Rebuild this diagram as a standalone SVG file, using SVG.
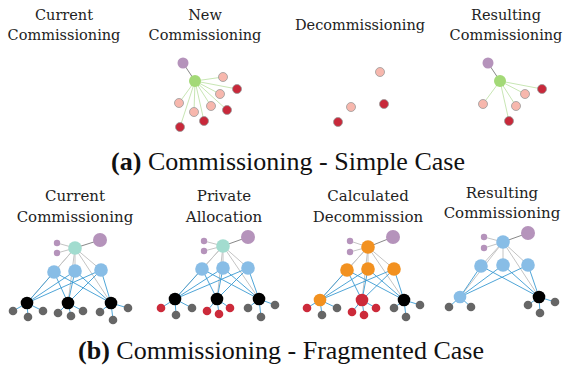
<svg xmlns="http://www.w3.org/2000/svg" width="566" height="365" viewBox="0 0 566 365">
<style>
.t{font-family:"DejaVu Serif","Liberation Serif",serif;font-size:14.5px;fill:#222;text-anchor:middle}
.tb{font-family:"DejaVu Serif","Liberation Serif",serif;font-size:15px;fill:#222;text-anchor:middle}
.cap{font-family:"Liberation Serif","DejaVu Serif",serif;font-size:26px;fill:#111;text-anchor:middle}
.cap tspan.b{font-weight:bold}
.pu{fill:#b593bb}
.gr{fill:#a3d977}
.pk{fill:#f7b7ad;stroke:#999;stroke-width:0.8}
.rd{fill:#c8283a;stroke:#999;stroke-width:0.8}
.tl{fill:#a2dccf}
.bl{fill:#88bde6}
.bk{fill:#000}
.gy{fill:#666}
.or{fill:#f29120}
.rr{fill:#cc2a3a}
.ed{fill:none;stroke:#888;stroke-width:1}
.eg{fill:none;stroke:#c8e6b4;stroke-width:1}
.el{fill:none;stroke:#c4c4c4;stroke-width:1}
.eb{fill:none;stroke:#3b9bd3;stroke-width:0.9}
</style>
<g id="connectors">
<path class="ed" d="M183,63L195,81 M488,63L500,81"/>
<path class="eg" d="M195,81L223,77 M195,81L220,94 M195,81L211,106 M195,81L194,112 M195,81L179,103 M195,81L237,89 M195,81L227,110 M195,81L204,121 M195,81L180,127"/>
<path class="eg" d="M500,81L542,89 M500,81L509,121 M500,81L525,94 M500,81L516,106 M500,81L483,104"/>
<path class="el" d="M57,243L75,248 M57,253L75,248 M75,248L54,272 M75,248L75,271 M75,248L101,270 M75,248L27,303 M75,248L68,303 M75,248L111,303"/>
<path class="ed" d="M75,248L100,240 M223,246L248,237 M368,247L393,237 M503,242L528,233"/>
<path class="eb" d="M54,272L27,303 M54,272L68,303 M54,272L111,303 M75,271L27,303 M75,271L68,303 M75,271L111,303 M101,270L27,303 M101,270L68,303 M101,270L111,303"/>
<path class="eb" d="M27,303L13,311 M27,303L28,317 M27,303L43,311 M68,303L58,313 M68,303L71,316 M68,303L83,311 M111,303L100,312 M111,303L113,320 M111,303L128,308"/>
<path class="el" d="M204,241L223,246 M204,251L223,246 M223,246L202,269 M223,246L223,268 M223,246L248,268 M223,246L175,299 M223,246L217,299 M223,246L259,299"/>
<path class="eb" d="M202,269L175,299 M202,269L217,299 M202,269L259,299 M223,268L175,299 M223,268L217,299 M223,268L259,299 M248,268L175,299 M248,268L217,299 M248,268L259,299"/>
<path class="eb" d="M175,299L161,308 M175,299L176,315 M175,299L192,308 M217,299L207,311 M217,299L219,314 M217,299L230,308 M259,299L248,308 M259,299L261,317 M259,299L275,305"/>
<path class="el" d="M350,241L368,247 M350,252L368,247 M368,247L347,270 M368,247L368,269 M368,247L394,269 M368,247L320,300 M368,247L362,300 M368,247L404,300"/>
<path class="eb" d="M347,270L320,300 M347,270L362,300 M347,270L404,300 M368,269L320,300 M368,269L362,300 M368,269L404,300 M394,269L320,300 M394,269L362,300 M394,269L404,300"/>
<path class="eb" d="M320,300L307,308 M320,300L322,315 M320,300L337,308 M362,300L352,312 M362,300L364,315 M362,300L376,308 M404,300L394,308 M404,300L406,317 M404,300L420,305"/>
<path class="el" d="M484,237L503,242 M484,248L503,242 M503,242L481,266 M503,242L503,265 M503,242L528,265 M503,242L460,297 M503,242L539,297"/>
<path class="eb" d="M481,266L460,297 M481,266L539,297 M503,265L460,297 M503,265L539,297 M528,265L460,297 M528,265L539,297"/>
<path class="eb" d="M460,297L449,307 M460,297L471,307 M539,297L528,305 M539,297L540,313 M539,297L555,302"/>
</g>
<g id="titles">
<text class="t" x="64" y="20">Current</text><text class="t" x="64" y="40">Commissioning</text>
<text class="t" x="205" y="20">New</text><text class="t" x="205" y="40">Commissioning</text>
<text class="t" x="360" y="30">Decommissioning</text>
<text class="t" x="506" y="20">Resulting</text><text class="t" x="506" y="40">Commissioning</text>
<text class="tb" x="75" y="201">Current</text><text class="tb" x="75" y="222">Commissioning</text>
<text class="tb" x="224" y="201">Private</text><text class="tb" x="224" y="222">Allocation</text>
<text class="tb" x="368" y="201">Calculated</text><text class="tb" x="368" y="222">Decommission</text>
<text class="tb" x="502" y="198">Resulting</text><text class="tb" x="502" y="218">Commissioning</text>
<text class="cap" x="288" y="170"><tspan class="b">(a)</tspan> Commissioning - Simple Case</text>
<text class="cap" x="281" y="359"><tspan class="b">(b)</tspan> Commissioning - Fragmented Case</text>
</g>
<g id="new">
<g id="n-p"><circle class="pu" cx="183" cy="63" r="5.5"/></g>
<g id="n-g"><circle class="gr" cx="195" cy="81" r="6"/></g>
<g id="n-k1"><circle class="pk" cx="223" cy="77" r="4.5"/></g>
<g id="n-k2"><circle class="pk" cx="220" cy="94" r="4.5"/></g>
<g id="n-k3"><circle class="pk" cx="211" cy="106" r="4.5"/></g>
<g id="n-k4"><circle class="pk" cx="194" cy="112" r="4.5"/></g>
<g id="n-k5"><circle class="pk" cx="179" cy="103" r="4.5"/></g>
<g id="n-r1"><circle class="rd" cx="237" cy="89" r="4.5"/></g>
<g id="n-r2"><circle class="rd" cx="227" cy="110" r="4.5"/></g>
<g id="n-r3"><circle class="rd" cx="204" cy="121" r="4.5"/></g>
<g id="n-r4"><circle class="rd" cx="180" cy="127" r="4.5"/></g>
</g>
<g id="decom">
<g id="d-k1"><circle class="pk" cx="380" cy="72" r="4.5"/></g>
<g id="d-k2"><circle class="pk" cx="351" cy="107" r="4.5"/></g>
<g id="d-r1"><circle class="rd" cx="384" cy="104" r="4.5"/></g>
<g id="d-r2"><circle class="rd" cx="338" cy="122" r="4.5"/></g>
</g>
<g id="result">
<g id="r-p"><circle class="pu" cx="488" cy="63" r="5.5"/></g>
<g id="r-g"><circle class="gr" cx="500" cy="81" r="6"/></g>
<g id="r-r1"><circle class="rd" cx="542" cy="89" r="4.5"/></g>
<g id="r-r2"><circle class="rd" cx="509" cy="121" r="4.5"/></g>
<g id="r-k1"><circle class="pk" cx="525" cy="94" r="4.5"/></g>
<g id="r-k2"><circle class="pk" cx="516" cy="106" r="4.5"/></g>
<g id="r-k3"><circle class="pk" cx="483" cy="104" r="4.5"/></g>
</g>
<g id="p1">
<g id="p1-sp1"><circle class="pu" cx="57" cy="243" r="3.2"/></g>
<g id="p1-sp2"><circle class="pu" cx="57" cy="253" r="3.2"/></g>
<g id="p1-t"><circle class="tl" cx="75" cy="248" r="6.8"/></g>
<g id="p1-bp"><circle class="pu" cx="100" cy="240" r="7"/></g>
<g id="p1-m1"><circle class="bl" cx="54" cy="272" r="6.8"/></g>
<g id="p1-m2"><circle class="bl" cx="75" cy="271" r="6.8"/></g>
<g id="p1-m3"><circle class="bl" cx="101" cy="270" r="6.8"/></g>
<g id="p1-b1"><circle class="bk" cx="27" cy="303" r="6.3"/></g>
<g id="p1-b2"><circle class="bk" cx="68" cy="303" r="6.3"/></g>
<g id="p1-b3"><circle class="bk" cx="111" cy="303" r="6.3"/></g>
<g id="p1-l1"><circle class="gy" cx="13" cy="311" r="4.3"/></g>
<g id="p1-l2"><circle class="gy" cx="28" cy="317" r="4.3"/></g>
<g id="p1-l3"><circle class="gy" cx="43" cy="311" r="4.3"/></g>
<g id="p1-l4"><circle class="gy" cx="58" cy="313" r="4.3"/></g>
<g id="p1-l5"><circle class="gy" cx="71" cy="316" r="4.3"/></g>
<g id="p1-l6"><circle class="gy" cx="83" cy="311" r="4.3"/></g>
<g id="p1-l7"><circle class="gy" cx="100" cy="312" r="4.3"/></g>
<g id="p1-l8"><circle class="gy" cx="113" cy="320" r="4.3"/></g>
<g id="p1-l9"><circle class="gy" cx="128" cy="308" r="4.3"/></g>
</g>
<g id="p2">
<g id="p2-sp1"><circle class="pu" cx="204" cy="241" r="3.2"/></g>
<g id="p2-sp2"><circle class="pu" cx="204" cy="251" r="3.2"/></g>
<g id="p2-t"><circle class="tl" cx="223" cy="246" r="6.8"/></g>
<g id="p2-bp"><circle class="pu" cx="248" cy="237" r="7"/></g>
<g id="p2-m1"><circle class="bl" cx="202" cy="269" r="6.8"/></g>
<g id="p2-m2"><circle class="bl" cx="223" cy="268" r="6.8"/></g>
<g id="p2-m3"><circle class="bl" cx="248" cy="268" r="6.8"/></g>
<g id="p2-b1"><circle class="bk" cx="175" cy="299" r="6.3"/></g>
<g id="p2-b2"><circle class="bk" cx="217" cy="299" r="6.3"/></g>
<g id="p2-b3"><circle class="bk" cx="259" cy="299" r="6.3"/></g>
<g id="p2-l1"><circle class="rr" cx="161" cy="308" r="4.3"/></g>
<g id="p2-l2"><circle class="gy" cx="176" cy="315" r="4.3"/></g>
<g id="p2-l3"><circle class="gy" cx="192" cy="308" r="4.3"/></g>
<g id="p2-l4"><circle class="rr" cx="207" cy="311" r="4.3"/></g>
<g id="p2-l5"><circle class="rr" cx="219" cy="314" r="4.3"/></g>
<g id="p2-l6"><circle class="rr" cx="230" cy="308" r="4.3"/></g>
<g id="p2-l7"><circle class="gy" cx="248" cy="308" r="4.3"/></g>
<g id="p2-l8"><circle class="gy" cx="261" cy="317" r="4.3"/></g>
<g id="p2-l9"><circle class="gy" cx="275" cy="305" r="4.3"/></g>
</g>
<g id="p3">
<g id="p3-sp1"><circle class="pu" cx="350" cy="241" r="3.2"/></g>
<g id="p3-sp2"><circle class="pu" cx="350" cy="252" r="3.2"/></g>
<g id="p3-t"><circle class="or" cx="368" cy="247" r="6.8"/></g>
<g id="p3-bp"><circle class="pu" cx="393" cy="237" r="7"/></g>
<g id="p3-m1"><circle class="or" cx="347" cy="270" r="6.8"/></g>
<g id="p3-m2"><circle class="or" cx="368" cy="269" r="6.8"/></g>
<g id="p3-m3"><circle class="or" cx="394" cy="269" r="6.8"/></g>
<g id="p3-b1"><circle class="or" cx="320" cy="300" r="6.3"/></g>
<g id="p3-b2"><circle class="rr" cx="362" cy="300" r="6.3"/></g>
<g id="p3-b3"><circle class="bk" cx="404" cy="300" r="6.3"/></g>
<g id="p3-l1"><circle class="rr" cx="307" cy="308" r="4.3"/></g>
<g id="p3-l2"><circle class="gy" cx="322" cy="315" r="4.3"/></g>
<g id="p3-l3"><circle class="gy" cx="337" cy="308" r="4.3"/></g>
<g id="p3-l4"><circle class="rr" cx="352" cy="312" r="4.3"/></g>
<g id="p3-l5"><circle class="rr" cx="364" cy="315" r="4.3"/></g>
<g id="p3-l6"><circle class="rr" cx="376" cy="308" r="4.3"/></g>
<g id="p3-l7"><circle class="gy" cx="394" cy="308" r="4.3"/></g>
<g id="p3-l8"><circle class="gy" cx="406" cy="317" r="4.3"/></g>
<g id="p3-l9"><circle class="gy" cx="420" cy="305" r="4.3"/></g>
</g>
<g id="p4">
<g id="p4-sp1"><circle class="pu" cx="484" cy="237" r="3.2"/></g>
<g id="p4-sp2"><circle class="pu" cx="484" cy="248" r="3.2"/></g>
<g id="p4-t"><circle class="bl" cx="503" cy="242" r="6.8"/></g>
<g id="p4-bp"><circle class="pu" cx="528" cy="233" r="7"/></g>
<g id="p4-m1"><circle class="bl" cx="481" cy="266" r="6.8"/></g>
<g id="p4-m2"><circle class="bl" cx="503" cy="265" r="6.8"/></g>
<g id="p4-m3"><circle class="bl" cx="528" cy="265" r="6.8"/></g>
<g id="p4-b1"><circle class="bl" cx="460" cy="297" r="6.3"/></g>
<g id="p4-b2"><circle class="bk" cx="539" cy="297" r="6.3"/></g>
<g id="p4-l1"><circle class="gy" cx="449" cy="307" r="4.3"/></g>
<g id="p4-l2"><circle class="gy" cx="471" cy="307" r="4.3"/></g>
<g id="p4-l3"><circle class="gy" cx="528" cy="305" r="4.3"/></g>
<g id="p4-l4"><circle class="gy" cx="540" cy="313" r="4.3"/></g>
<g id="p4-l5"><circle class="gy" cx="555" cy="302" r="4.3"/></g>
</g>
</svg>
